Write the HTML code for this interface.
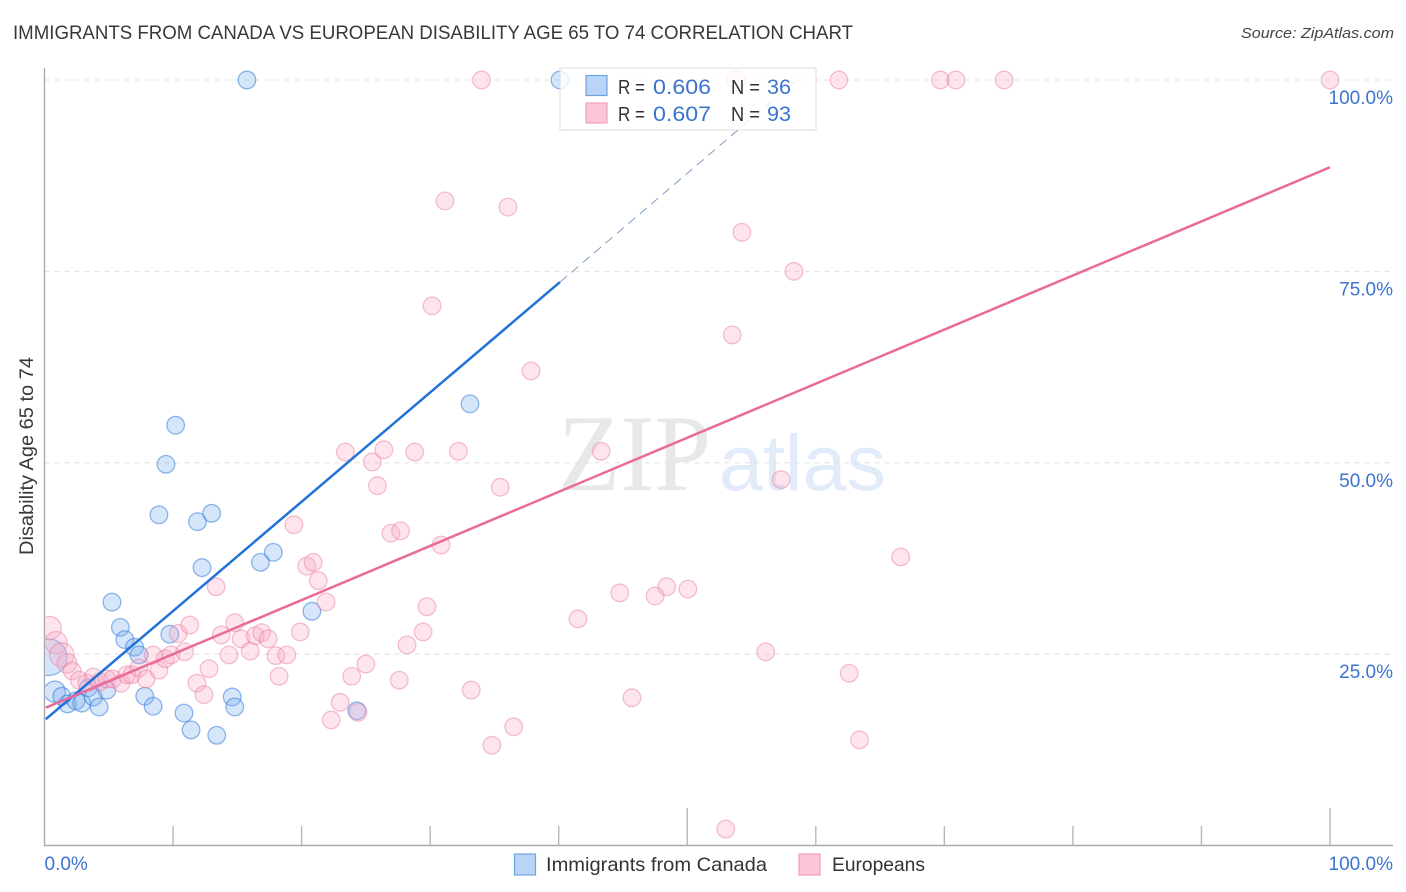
<!DOCTYPE html>
<html lang="en">
<head>
<meta charset="utf-8">
<title>Immigrants from Canada vs European Disability Age 65 to 74 Correlation Chart</title>
<style>
html,body{margin:0;padding:0;background:#fff;width:1406px;height:892px;overflow:hidden}
svg{display:block;font-family:"Liberation Sans",sans-serif}
</style>
</head>
<body>
<svg id="chart" xmlns="http://www.w3.org/2000/svg" width="1406" height="892" viewBox="0 0 1406 892">
  <defs>
    <clipPath id="plot-clip"><rect x="45.500" y="0" width="1360" height="892"/></clipPath>
  </defs>
  <rect x="0" y="0" width="1406" height="892" fill="#fff"/>
  <text x="13" y="39" font-size="19" fill="#383838" textLength="840" lengthAdjust="spacingAndGlyphs">IMMIGRANTS FROM CANADA VS EUROPEAN DISABILITY AGE 65 TO 74 CORRELATION CHART</text>
  <text x="1394" y="38" font-size="15" font-style="italic" fill="#444" text-anchor="end" textLength="153" lengthAdjust="spacingAndGlyphs">Source: ZipAtlas.com</text>
  <g>
    <text x="558" y="490" font-family="'Liberation Serif',serif" font-size="109" fill="#e8e8e8" textLength="153" lengthAdjust="spacingAndGlyphs">ZIP</text>
    <text x="719" y="490" font-size="79" fill="#e2ebf9" textLength="167" lengthAdjust="spacingAndGlyphs">atlas</text>
  </g>
  <g id="grid"></g>
  <g id="axes">
    <line x1="44.5" y1="68" x2="44.5" y2="846" stroke="#aaa" stroke-width="1.4"/>
    <line x1="44" y1="845.5" x2="1393" y2="845.5" stroke="#aaa" stroke-width="1.4"/>
  </g>
  <g id="xticks"></g>
  <g id="ylabels"></g>
  <g id="xlabels"></g>
  <text transform="translate(33,456) rotate(-90)" font-size="19" fill="#383838" text-anchor="middle" textLength="198" lengthAdjust="spacingAndGlyphs">Disability Age 65 to 74</text>
  <g id="canada-points" clip-path="url(#plot-clip)"></g>
  <g id="europe-points" clip-path="url(#plot-clip)"></g>
  <g id="trends"></g>

  <g>
    <rect x="560" y="68" width="256" height="62" fill="#fff" fill-opacity="0.8" stroke="#dcdcdc" stroke-width="1"/>
    <rect x="586" y="75.500" width="21" height="20" fill="#b9d4f6" stroke="#6ea3e2" stroke-width="1.2"/>
    <rect x="586" y="103" width="21" height="20" fill="#fcc6d8" stroke="#f0a0bc" stroke-width="1.2"/>
    <text x="618" y="94" font-size="20" fill="#333" textLength="27" lengthAdjust="spacingAndGlyphs">R =</text>
    <text x="653" y="94" font-size="21" fill="#3b73cf" textLength="58" lengthAdjust="spacingAndGlyphs">0.606</text>
    <text x="731" y="94" font-size="20" fill="#333" textLength="29" lengthAdjust="spacingAndGlyphs">N =</text>
    <text x="767" y="94" font-size="21" fill="#3b73cf" textLength="24" lengthAdjust="spacingAndGlyphs">36</text>
    <text x="618" y="121" font-size="20" fill="#333" textLength="27" lengthAdjust="spacingAndGlyphs">R =</text>
    <text x="653" y="121" font-size="21" fill="#3b73cf" textLength="58" lengthAdjust="spacingAndGlyphs">0.607</text>
    <text x="731" y="121" font-size="20" fill="#333" textLength="29" lengthAdjust="spacingAndGlyphs">N =</text>
    <text x="767" y="121" font-size="21" fill="#3b73cf" textLength="24" lengthAdjust="spacingAndGlyphs">93</text>
  </g>

  <g>
    <rect x="514.500" y="854" width="21" height="21" fill="#b9d4f6" stroke="#6ea3e2" stroke-width="1.2"/>
    <text x="546" y="871" font-size="19.500" fill="#333" textLength="221" lengthAdjust="spacingAndGlyphs">Immigrants from Canada</text>
    <rect x="799" y="854" width="21" height="21" fill="#fcc6d8" stroke="#f0a0bc" stroke-width="1.2"/>
    <text x="832" y="871" font-size="19.500" fill="#333" textLength="93" lengthAdjust="spacingAndGlyphs">Europeans</text>
  </g>
</svg>
<script>
const yTickValues = [25, 50, 75, 100];
const yTickLabels = ["25.0%", "50.0%", "75.0%", "100.0%"];
const xTickValues = [0, 10, 20, 30, 40, 50, 60, 70, 80, 90, 100];
const xMajorTicks = [50, 100];
const xEndValues = [0, 100];
const xEndLabels = ["0.0%", "100.0%"];

const canadaX = [15.75,40.1,33.1,10.2,9.45,8.9,11.9,13.0,17.8,16.8,12.25,20.8,5.25,5.9,6.25,7.0,7.35,9.75,0.33,0.8,1.35,1.8,2.45,2.9,3.4,3.8,4.25,4.85,7.8,8.45,10.85,11.4,13.4,14.6,14.8,24.3];
const canadaY = [100,100,57.7,54.9,49.8,43.2,42.3,43.4,38.3,37.0,36.3,30.6,31.8,28.5,26.9,25.9,24.9,27.6,24.6,20.1,19.5,18.5,18.9,18.6,20.6,19.4,18.1,20.3,19.5,18.2,17.3,15.1,14.4,19.4,18.1,17.6];
const canadaWeight = [1,1,1,1,1,1,1,1,1,1,1,1,1,1,1,1,1,1,4.3,1.45,1,1,1,1,1,1,1,1,1,1,1,1,1,1,1,1];

const europeX = [0.4,0.9,1.35,1.75,2.15,2.7,3.3,3.8,4.3,4.85,5.3,5.95,6.4,6.8,7.35,7.9,8.45,8.9,9.4,9.85,10.4,10.9,11.3,11.85,12.4,12.8,13.35,13.75,14.35,14.8,15.3,16.0,16.4,16.9,17.4,18.0,18.25,18.85,19.9,21.9,21.3,20.4,20.9,22.3,23.0,23.9,19.4,23.4,25.5,25.9,26.4,28.8,32.2,26.95,27.7,30.85,29.75,29.45,28.2,25.0,27.6,33.2,36.5,34.8,24.4,30.15,37.85,31.15,36.05,43.3,35.45,34.0,53.8,61.8,69.7,70.9,74.65,100,54.25,58.3,53.5,57.3,66.6,50.05,48.4,47.5,44.75,41.5,56.1,62.6,63.4,45.7,53.0];
const europeY = [28.4,26.5,24.9,23.8,22.8,21.6,21.2,22.0,21.4,21.75,21.75,21.2,22.3,22.3,23.2,21.75,24.9,22.9,24.4,24.9,27.7,25.3,28.8,21.2,19.7,23.1,33.8,27.5,24.9,29.1,27.0,25.4,27.4,27.8,27.0,24.8,22.1,24.9,27.9,31.8,34.6,36.5,37.0,16.4,18.7,22.1,41.9,51.4,50.1,47.0,51.7,51.4,51.5,40.8,41.1,39.25,31.2,27.9,26.2,23.7,21.6,20.3,15.5,13.1,17.4,70.5,62.0,84.2,83.4,51.5,46.8,100,100,100,100,100,100,100,80.1,75.0,66.7,47.8,37.7,33.5,33.8,32.6,33.0,29.6,25.3,22.5,13.8,19.3,2.15];
const europeWeight = [1.75,1.6,1.9,1.25];

const canadaTrendX = [0.1, 40.1];
const canadaTrendY = [16.5, 73.6];
const canadaProjectionX = [40.1, 58.5];
const canadaProjectionY = [73.6, 100];
const europeTrendX = [0.1, 100];
const europeTrendY = [18.0, 88.6];

const SVG_NS = "http://www.w3.org/2000/svg";
function sx(v) { return 44.5 + v * 12.855; }
function sy(v) { return 845.5 - v * 7.655; }
function radius(w) { return 8.8 * Math.sqrt(w === undefined ? 1 : w); }
function make(tag, attrs, parentId) {
  const el = document.createElementNS(SVG_NS, tag);
  Object.keys(attrs).forEach(function (k) { el.setAttribute(k, attrs[k]); });
  document.getElementById(parentId).appendChild(el);
  return el;
}

yTickValues.forEach(function (v, i) {
  const line = make("line", { x1: 44.5, x2: 1393, y1: sy(v), y2: sy(v), stroke: "#e0e0e0", "stroke-width": 1, "stroke-dasharray": "5 5" }, "grid");
  
  
  const label = make("text", { x: 1393, y: sy(v) + 24, "font-size": 19, fill: "#3b73cf", "text-anchor": "end" }, "ylabels");
  
  
  label.textContent = yTickLabels[i];
});

xTickValues.forEach(function (v) {
  if (v === 0) return;
  const tall = xMajorTicks.indexOf(v) >= 0;
  const tick = make("line", { x1: sx(v), x2: sx(v), y1: tall ? 808 : 826, y2: 845.5, stroke: "#b8b8b8", "stroke-width": 1.4 }, "xticks");
  
  
});

xEndValues.forEach(function (v, i) {
  const label = make("text", { x: i === 0 ? sx(v) : 1393, y: 870, "font-size": 19, fill: "#3b73cf", "text-anchor": i === 0 ? "start" : "end" }, "xlabels");
  
  
  label.textContent = xEndLabels[i];
});

canadaX.forEach(function (v, i) {
  const dot = make("circle", { cx: sx(v), cy: sy(canadaY[i]), r: radius(canadaWeight[i]), fill: "rgba(125,175,238,0.32)", stroke: "rgba(55,125,215,0.55)", "stroke-width": 1.3 }, "canada-points");
  
  
});

europeX.forEach(function (v, i) {
  const dot = make("circle", { cx: sx(v), cy: sy(europeY[i]), r: radius(europeWeight[i]), fill: "rgba(248,170,198,0.32)", stroke: "rgba(232,120,155,0.45)", "stroke-width": 1.3 }, "europe-points");
  
  
});

const canadaTrend = make("line", { x1: sx(canadaTrendX[0]), y1: sy(canadaTrendY[0]), x2: sx(canadaTrendX[1]), y2: sy(canadaTrendY[1]), stroke: "#2272d8", "stroke-width": 2.5 }, "trends");



const canadaProjection = make("line", { x1: sx(canadaProjectionX[0]), y1: sy(canadaProjectionY[0]), x2: sx(canadaProjectionX[1]), y2: sy(canadaProjectionY[1]), stroke: "#7d9ec4", "stroke-width": 1, "stroke-dasharray": "9 6" }, "trends");



const europeTrend = make("line", { x1: sx(europeTrendX[0]), y1: sy(europeTrendY[0]), x2: sx(europeTrendX[1]), y2: sy(europeTrendY[1]), stroke: "#ea6a9a", "stroke-width": 2.5 }, "trends");


</script>
</body>
</html>
